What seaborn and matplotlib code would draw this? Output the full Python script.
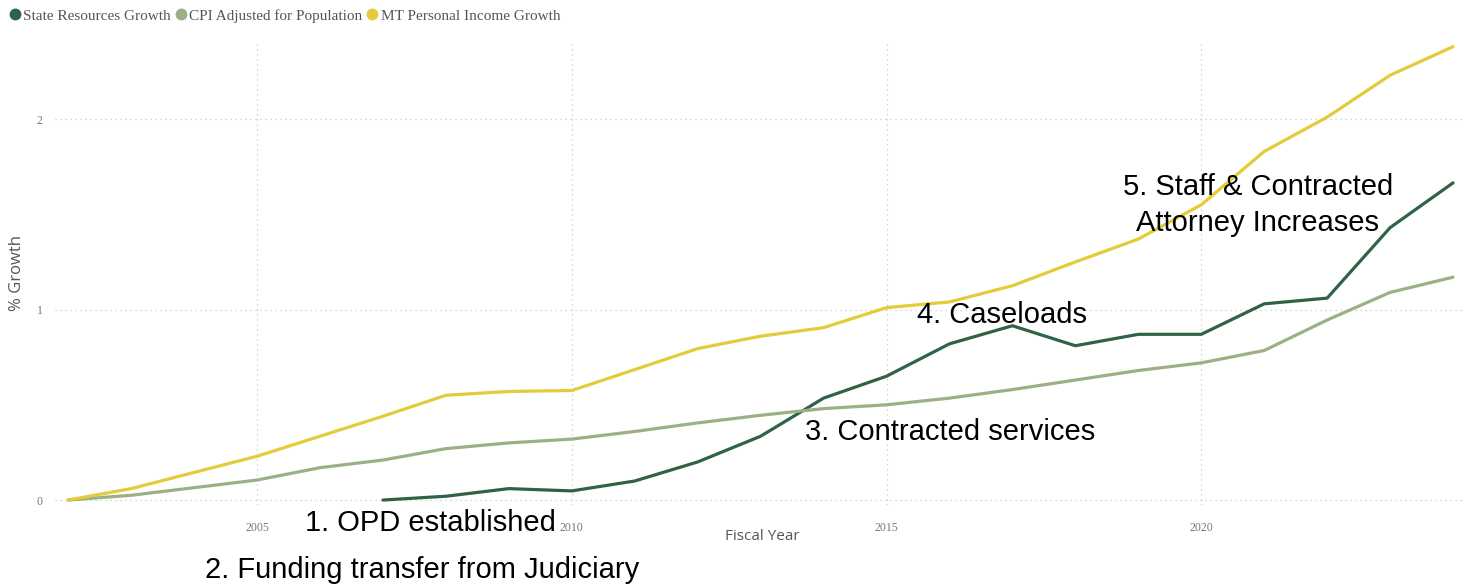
import numpy as np
import pandas as pd
import matplotlib
matplotlib.use("Agg")
import matplotlib.pyplot as plt
from matplotlib.lines import Line2D
import seaborn as sns

# ---- data ----
years = list(range(2002, 2025))
mt_income = [0.00, 0.06, 0.145, 0.23, 0.335, 0.44, 0.55, 0.57, 0.575, 0.685, 0.795,
             0.86, 0.905, 1.01, 1.04, 1.125, 1.25, 1.37, 1.55, 1.83, 2.01, 2.23, 2.38]
cpi_pop = [0.00, 0.025, 0.065, 0.105, 0.17, 0.21, 0.27, 0.30, 0.32, 0.36, 0.405,
           0.445, 0.48, 0.50, 0.535, 0.58, 0.63, 0.68, 0.72, 0.785, 0.945, 1.09, 1.17]
state_years = list(range(2007, 2025))
state_res = [0.00, 0.02, 0.06, 0.048, 0.10, 0.20, 0.335, 0.535, 0.65, 0.82, 0.915,
             0.81, 0.87, 0.87, 1.03, 1.06, 1.43, 1.665]

series_names = ["State Resources Growth", "CPI Adjusted for Population", "MT Personal Income Growth"]
colors = ["#2f6346", "#9bb085", "#e3cb3a"]
annotations = [
    ("1. OPD established", 430, 523),
    ("2. Funding transfer from Judiciary", 422, 570),
    ("3. Contracted services", 950, 432),
    ("4. Caseloads", 1002, 315),
    ("5. Staff & Contracted\nAttorney Increases", 1258, 205),
]

df = pd.concat([
    pd.DataFrame({"Fiscal Year": state_years, "% Growth": state_res, "Series": series_names[0]}),
    pd.DataFrame({"Fiscal Year": years, "% Growth": cpi_pop, "Series": series_names[1]}),
    pd.DataFrame({"Fiscal Year": years, "% Growth": mt_income, "Series": series_names[2]}),
], ignore_index=True)

sns.set_theme(style="white")
W, H = 1471, 585
fig = plt.figure(figsize=(W / 100, H / 100), dpi=100)
ax_l, ax_r, ax_t, ax_b = 55, 1465, 40, 505
ax = fig.add_axes([ax_l / W, 1 - ax_b / H, (ax_r - ax_l) / W, (ax_b - ax_t) / H])

sns.lineplot(data=df, x="Fiscal Year", y="% Growth", hue="Series",
             hue_order=series_names, palette=dict(zip(series_names, colors)),
             estimator=None, linewidth=2.3, legend=False, ax=ax, zorder=3)

ax.set_xlim(2001.79, 2024.19)
ax.set_ylim(-0.026, 2.415)
ax.set_xticks([2005, 2010, 2015, 2020])
ax.set_yticks([0, 1, 2])
ax.grid(True, linestyle=(0, (1, 3)), color="#c8c8c8", linewidth=0.9)
for s in ax.spines.values():
    s.set_visible(False)
ax.tick_params(axis="both", length=0, colors="#777777", labelsize=8.5)
ax.tick_params(axis="x", pad=12)
ax.tick_params(axis="y", pad=9)
for lab in ax.get_xticklabels() + ax.get_yticklabels():
    lab.set_family(["Liberation Serif", "DejaVu Serif"])

ax.set_xlabel("Fiscal Year", fontsize=11, color="#555555", family=["Open Sans", "DejaVu Sans"])
ax.set_ylabel("% Growth", fontsize=12, color="#555555", family=["Open Sans", "DejaVu Sans"])
ax.xaxis.set_label_coords((762 - ax_l) / (ax_r - ax_l), (ax_b - 529) / (ax_b - ax_t))
ax.yaxis.set_label_coords((25 - ax_l) / (ax_r - ax_l), (ax_b - 273) / (ax_b - ax_t))

handles = [Line2D([0], [0], marker="o", linestyle="", markersize=7.5,
                  markerfacecolor=c, markeredgecolor=c) for c in colors]
leg = fig.legend(handles, series_names, loc="upper left", bbox_to_anchor=(7 / W, 1 - 9 / H),
                 ncol=3, frameon=False, handlelength=1.0, handletextpad=0.05,
                 columnspacing=0.15, borderpad=0.0, borderaxespad=0.0,
                 prop={"family": ["Liberation Serif", "DejaVu Serif"], "size": 11})
for t in leg.get_texts():
    t.set_color("#555555")

for txt, x, y in annotations:
    fig.text(x / W, 1 - y / H, txt, ha="center", va="center", fontsize=21,
             family=["Liberation Sans", "DejaVu Sans"], color="black",
             linespacing=1.32, zorder=5)

fig.savefig("out.png", dpi=100)
